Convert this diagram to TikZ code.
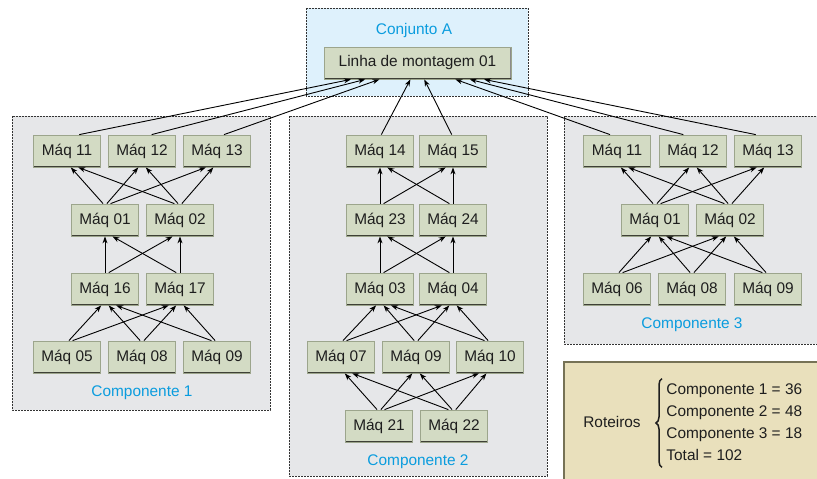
\documentclass[tikz,border=0pt]{standalone}
\usepackage{fontspec}
\setmainfont{Liberation Sans}
\usetikzlibrary{arrows.meta,calc,decorations.pathreplacing}

\definecolor{maqfill}{HTML}{D3DBC4}
\definecolor{maqline}{HTML}{9CA58C}
\definecolor{maqsombra}{HTML}{3E4036}
\definecolor{caixafill}{HTML}{E6E7E9}
\definecolor{conjfill}{HTML}{DEF1FC}
\definecolor{azul}{HTML}{0A9CDE}
\definecolor{rotfill}{HTML}{E9E0BC}
\definecolor{rotline}{HTML}{767256}
\definecolor{texto}{HTML}{1E1E1E}

\tikzset{
  maq/.style={draw=maqline, fill=maqfill, line width=0.8pt, text=texto,
    minimum width=67pt, minimum height=32pt, inner sep=0pt,
    path picture={
      \draw[black!45, line width=2pt] (path picture bounding box.south east) -- (path picture bounding box.north east);
      \draw[maqsombra, line width=2.4pt] (path picture bounding box.south west) -- (path picture bounding box.south east);
    }},
  caixa/.style={draw=black!80, fill=caixafill, line width=0.9pt, dash pattern=on 2pt off 1pt},
  rotulo/.style={text=azul},
}

% seta de uma maquina para a seguinte
\newcommand\ligar[2]{\draw[->] let \p1=(#1.north), \p2=(#2.south) in
  ([xshift={0.05*(\x2-\x1)}]\p1) -- ([xshift={0.1*(\x1-\x2)}]\p2);}

\begin{document}
\begin{tikzpicture}[x=1pt,y=-1pt,>={Stealth[length=7pt,width=5pt]},line width=0.9pt,
  font=\fontsize{15.4}{18}\selectfont]

  \useasboundingbox (0,0) rectangle (817,479);

  % caixas de fundo
  \draw[caixa, fill=conjfill] (306,8) rectangle (528,96);
  \draw[caixa] (12,116) rectangle (270,410);
  \draw[caixa] (289,116) rectangle (547,476);
  \draw[caixa] (564,116) rectangle (822,344);
  \fill[rotfill] (564,362) rectangle (822,482);
  \draw[rotline, line width=2pt] (564,482) -- (564,362) -- (822,362);

  % Conjunto A
  \node[rotulo] (cjlab) at (414,31) {Conjunto A};
  \node[maq, minimum width=187pt] (lm) at (417.5,63) {Linha de montagem 01};

  % Componente 1
  \node[maq] (c1m11) at (67,151) {Máq 11};
  \node[maq] (c1m12) at (142,151) {Máq 12};
  \node[maq] (c1m13) at (217,151) {Máq 13};
  \node[maq] (c1m01) at (105,220) {Máq 01};
  \node[maq] (c1m02) at (180,220) {Máq 02};
  \node[maq] (c1m16) at (105,289) {Máq 16};
  \node[maq] (c1m17) at (180,289) {Máq 17};
  \node[maq] (c1m05) at (67,357) {Máq 05};
  \node[maq] (c1m08) at (142,357) {Máq 08};
  \node[maq] (c1m09) at (217,357) {Máq 09};
  \node[rotulo] (c1lab) at (142,393) {Componente 1};

  % Componente 2
  \node[maq] (c2m14) at (380,151) {Máq 14};
  \node[maq] (c2m15) at (453,151) {Máq 15};
  \node[maq] (c2m23) at (380,220) {Máq 23};
  \node[maq] (c2m24) at (453,220) {Máq 24};
  \node[maq] (c2m03) at (380,289) {Máq 03};
  \node[maq] (c2m04) at (453,289) {Máq 04};
  \node[maq] (c2m07) at (341,357) {Máq 07};
  \node[maq] (c2m09) at (416,357) {Máq 09};
  \node[maq] (c2m10) at (490,357) {Máq 10};
  \node[maq] (c2m21) at (379,426) {Máq 21};
  \node[maq] (c2m22) at (454,426) {Máq 22};
  \node[rotulo] (c2lab) at (418,462) {Componente 2};

  % Componente 3
  \node[maq] (c3m11) at (617,151) {Máq 11};
  \node[maq] (c3m12) at (693,151) {Máq 12};
  \node[maq] (c3m13) at (768,151) {Máq 13};
  \node[maq] (c3m01) at (655,220) {Máq 01};
  \node[maq] (c3m02) at (730,220) {Máq 02};
  \node[maq] (c3m06) at (617,289) {Máq 06};
  \node[maq] (c3m08) at (692,289) {Máq 08};
  \node[maq] (c3m09) at (768,289) {Máq 09};
  \node[rotulo] (c3lab) at (692,325) {Componente 3};

  % Roteiros
  \node[text=texto] (rot) at (612,422) {Roteiros};
  \node[text=texto, anchor=west, inner sep=0pt] (lst) at (666,423)
    {\renewcommand\arraystretch{1.22}\begin{tabular}{@{}l@{}}Componente 1 = 36\\
     Componente 2 = 48\\ Componente 3 = 18\\ Total = 102\end{tabular}};
  \draw[texto, line width=1.5pt, decorate, decoration={brace, amplitude=6pt}]
    ([xshift=-4pt]lst.south west) -- ([xshift=-4pt]lst.north west);

  % setas para a linha de montagem
  \foreach \s in {c1m11,c1m12,c1m13,c2m14,c2m15,c3m11,c3m12,c3m13}
    \draw[->] let \p1=(\s.north), \p2=(lm.south) in
      ([xshift={0.035*(\x2-\x1)}]\p1) -- ([xshift={0.19*(\x1-\x2)}]\p2);

  % setas do componente 1
  \foreach \s in {c1m01,c1m02}{\foreach \t in {c1m11,c1m12,c1m13}{\ligar{\s}{\t}}}
  \foreach \s in {c1m16,c1m17}{\foreach \t in {c1m01,c1m02}{\ligar{\s}{\t}}}
  \foreach \s in {c1m05,c1m08,c1m09}{\foreach \t in {c1m16,c1m17}{\ligar{\s}{\t}}}

  % setas do componente 2
  \foreach \s in {c2m23,c2m24}{\foreach \t in {c2m14,c2m15}{\ligar{\s}{\t}}}
  \foreach \s in {c2m03,c2m04}{\foreach \t in {c2m23,c2m24}{\ligar{\s}{\t}}}
  \foreach \s in {c2m07,c2m09,c2m10}{\foreach \t in {c2m03,c2m04}{\ligar{\s}{\t}}}
  \foreach \s in {c2m21,c2m22}{\foreach \t in {c2m07,c2m09,c2m10}{\ligar{\s}{\t}}}

  % setas do componente 3
  \foreach \s in {c3m01,c3m02}{\foreach \t in {c3m11,c3m12,c3m13}{\ligar{\s}{\t}}}
  \foreach \s in {c3m06,c3m08,c3m09}{\foreach \t in {c3m01,c3m02}{\ligar{\s}{\t}}}

\end{tikzpicture}
\end{document}
